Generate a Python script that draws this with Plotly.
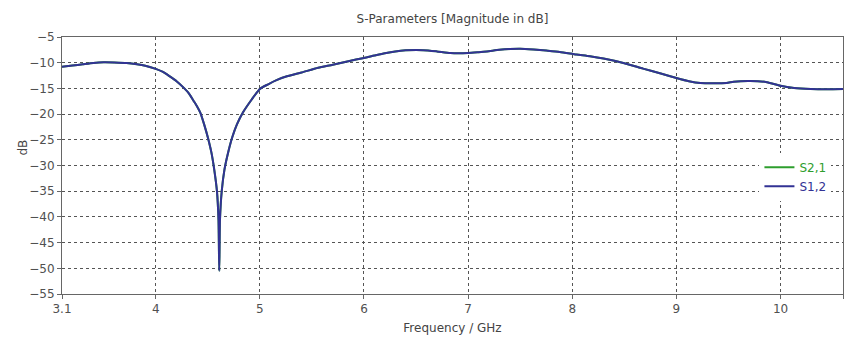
import plotly.graph_objects as go

freq_ghz = [3.1, 3.2, 3.3, 3.4, 3.5, 3.6, 3.72, 3.82, 3.9, 4.0, 4.07, 4.13, 4.2, 4.27,
            4.32, 4.36, 4.4, 4.43, 4.465, 4.5, 4.535, 4.562, 4.588, 4.603, 4.61, 4.617,
            4.634, 4.66, 4.695, 4.735, 4.78, 4.84, 4.92, 5.0, 5.08, 5.16, 5.26, 5.4,
            5.56, 5.7, 5.85, 6.0, 6.1, 6.2, 6.3, 6.4, 6.57, 6.7, 6.83, 7.0, 7.1, 7.18,
            7.3, 7.4, 7.5, 7.63, 7.75, 7.88, 8.04, 8.17, 8.3, 8.5, 8.68, 8.85, 9.0,
            9.12, 9.23, 9.48, 9.55, 9.71, 9.87, 10.0, 10.13, 10.29, 10.45, 10.6]
s12_db = [-10.8, -10.55, -10.3, -10.05, -9.92, -9.95, -10.05, -10.3, -10.6, -11.2,
          -11.8, -12.6, -13.6, -14.9, -16.0, -17.3, -18.6, -19.8, -22.0, -24.5, -27.5,
          -30.8, -35.0, -40.6, -50.5, -40.6, -35.0, -30.8, -27.5, -24.5, -22.0, -19.6,
          -17.2, -15.1, -14.2, -13.4, -12.65, -11.9, -11.0, -10.4, -9.7, -9.07, -8.6,
          -8.15, -7.8, -7.6, -7.57, -7.8, -8.1, -8.1, -7.95, -7.8, -7.5, -7.35, -7.3,
          -7.45, -7.65, -7.9, -8.4, -8.75, -9.2, -10.1, -11.15, -12.1, -12.97, -13.6,
          -13.95, -13.95, -13.7, -13.56, -13.8, -14.5, -14.9, -15.1, -15.15, -15.1]
s21_db = list(s12_db)

x_ticks = [3.1, 4, 5, 6, 7, 8, 9, 10, 10.6]
x_tick_labels = ["3.1", "4", "5", "6", "7", "8", "9", "10", "10.6"]
y_ticks = [-5, -10, -15, -20, -25, -30, -35, -40, -45, -50, -55]

GREEN = "#2e9e2e"
BLUE = "#323294"
FONT = "DejaVu Sans"
TXT = "#505050"

fig = go.Figure()
fig.add_trace(go.Scatter(x=freq_ghz, y=s21_db, mode="lines",
                         line=dict(color=GREEN, width=2, shape="spline", smoothing=0.6),
                         name=f"<span style='color:{GREEN}'>S2,1</span>"))
fig.add_trace(go.Scatter(x=freq_ghz, y=s12_db, mode="lines",
                         line=dict(color=BLUE, width=2, shape="spline", smoothing=0.6),
                         name=f"<span style='color:{BLUE}'>S1,2</span>"))

fig.update_layout(
    width=856, height=345,
    margin=dict(l=62, r=13, t=37, b=51),
    paper_bgcolor="white", plot_bgcolor="white",
    font=dict(family=FONT, size=11, color=TXT),
    title=dict(text="S-Parameters [Magnitude in dB]", x=0.5, xref="paper",
               xanchor="center", y=0.945, yref="container", yanchor="middle",
               font=dict(family=FONT, size=12, color="#444444")),
    legend=dict(x=0.893, y=0.55, xanchor="left", yanchor="top",
                bgcolor="white", borderwidth=0,
                font=dict(family=FONT, size=12), tracegroupgap=0,
                itemwidth=30),
    showlegend=True,
)
fig.update_xaxes(
    range=[3.1, 10.6], tickvals=x_ticks, ticktext=x_tick_labels,
    showgrid=True, gridcolor="#555555", griddash="dot", gridwidth=1,
    showline=True, linecolor="#666666", linewidth=1, mirror=True,
    ticks="outside", ticklen=4, tickcolor="#666666",
    tickfont=dict(family=FONT, size=12, color=TXT),
    title=dict(text="Frequency / GHz", font=dict(family=FONT, size=12, color="#444444"),
               standoff=8),
    zeroline=False,
)
fig.update_yaxes(
    range=[-55, -5], tickvals=y_ticks,
    showgrid=True, gridcolor="#555555", griddash="dot", gridwidth=1,
    showline=True, linecolor="#666666", linewidth=1, mirror=True,
    ticks="outside", ticklen=4, tickcolor="#666666",
    tickfont=dict(family=FONT, size=12, color=TXT),
    zeroline=False,
)
fig.add_annotation(text="dB", xref="paper", yref="paper", x=-0.062, y=0.568,
                   textangle=-90, showarrow=False,
                   font=dict(family=FONT, size=12, color="#444444"))

fig.write_html("out.html")
